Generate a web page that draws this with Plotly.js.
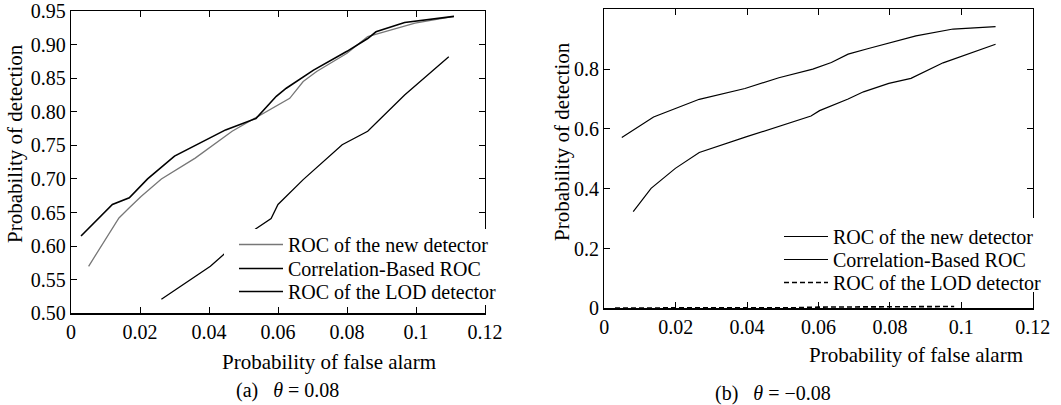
<!DOCTYPE html>
<html>
<head>
<meta charset="utf-8">
<script src="https://cdn.plot.ly/plotly-3.0.1.min.js"></script>
<style>
html,body{margin:0;padding:0;background:#fff;}
#chart{width:1061px;height:405px;}
</style>
</head>
<body>
<div id="chart"></div>
<script>
// Panel (a): theta = 0.08
var newA_x  = [0.0051,0.0139,0.0169,0.0203,0.0262,0.036,0.0467,0.0585,0.0634,0.0673,0.0712,0.080,0.086,0.0908,0.0997,0.111];
var newA_y  = [0.570,0.642,0.657,0.674,0.700,0.731,0.771,0.805,0.820,0.845,0.860,0.887,0.912,0.919,0.932,0.942];
var corrA_x = [0.0029,0.012,0.0169,0.0222,0.030,0.039,0.0448,0.0536,0.0595,0.0624,0.0703,0.080,0.086,0.0884,0.0967,0.111];
var corrA_y = [0.615,0.662,0.672,0.700,0.734,0.758,0.773,0.790,0.823,0.835,0.862,0.890,0.909,0.919,0.933,0.942];
var lodA_x  = [0.0262,0.0404,0.0448,0.0536,0.058,0.060,0.0673,0.0786,0.086,0.0967,0.1095];
var lodA_y  = [0.521,0.570,0.590,0.626,0.641,0.662,0.699,0.751,0.771,0.825,0.882];

// Panel (b): theta = -0.08
var newB_x  = [0.0049,0.0138,0.0266,0.0394,0.0489,0.0584,0.0636,0.0683,0.074,0.0873,0.0977,0.1096];
var newB_y  = [0.571,0.640,0.699,0.735,0.771,0.800,0.822,0.850,0.869,0.911,0.934,0.942];
var corrB_x = [0.0081,0.0131,0.0199,0.0266,0.0399,0.0522,0.0579,0.0603,0.0683,0.0726,0.0797,0.0859,0.0949,0.1096];
var corrB_y = [0.323,0.401,0.468,0.521,0.574,0.622,0.643,0.661,0.700,0.724,0.752,0.769,0.821,0.883];
var lodB_x  = [0.003,0.02,0.04,0.054,0.06,0.07,0.08,0.09,0.098];
var lodB_y  = [0.001,0.001,0.001,0.002,0.004,0.004,0.005,0.006,0.006];

var seriesNames = ['ROC of the new detector','Correlation-Based ROC','ROC of the LOD detector'];
var xTicksVals = [0,0.02,0.04,0.06,0.08,0.1,0.12];
var yTicksA = [0.50,0.55,0.60,0.65,0.70,0.75,0.80,0.85,0.90,0.95];
var yTicksB = [0,0.2,0.4,0.6,0.8,1];

var FONT = 'Liberation Serif, Times New Roman, Times, serif';
var W = 1061, H = 405;
function px(x){return x/W;}
function py(y){return (H-y)/H;}

var traces = [
  {x:newA_x, y:newA_y, name:seriesNames[0], mode:'lines', line:{color:'#777777', width:1.3}, xaxis:'x', yaxis:'y', legend:'legend'},
  {x:corrA_x, y:corrA_y, name:seriesNames[1], mode:'lines', line:{color:'#000000', width:1.6}, xaxis:'x', yaxis:'y', legend:'legend2'},
  {x:lodA_x, y:lodA_y, name:seriesNames[2], mode:'lines', line:{color:'#000000', width:1.3}, xaxis:'x', yaxis:'y', legend:'legend3'},
  {x:newB_x, y:newB_y, name:seriesNames[0], mode:'lines', line:{color:'#000000', width:1.2}, xaxis:'x2', yaxis:'y2', legend:'legend4'},
  {x:corrB_x, y:corrB_y, name:seriesNames[1], mode:'lines', line:{color:'#000000', width:1.2}, xaxis:'x2', yaxis:'y2', legend:'legend5'},
  {x:lodB_x, y:lodB_y, name:seriesNames[2], mode:'lines', line:{color:'#000000', width:1.6, dash:'5px,3px'}, xaxis:'x2', yaxis:'y2', legend:'legend6'}
];

function axisBase(){
  return {
    showline:true, linecolor:'#000', linewidth:1.3, mirror:'ticks',
    ticks:'inside', ticklen:6, tickwidth:1, tickcolor:'#000',
    showgrid:false, zeroline:false, fixedrange:true,
    tickfont:{family:FONT, size:20, color:'#000'}
  };
}

var xa = Object.assign(axisBase(), {domain:[px(71), px(485)], range:[0,0.12], tickmode:'array', tickvals:xTicksVals, anchor:'y'});
var ya = Object.assign(axisBase(), {domain:[py(313.3), py(11)], range:[0.5,0.95], tickmode:'array', tickvals:yTicksA, tickformat:'.2f', anchor:'x'});
var xb = Object.assign(axisBase(), {domain:[px(604.3), px(1032.7)], range:[0,0.12], tickmode:'array', tickvals:xTicksVals, anchor:'y2'});
var yb = Object.assign(axisBase(), {domain:[py(308.3), py(9.3)], range:[0,1], tickmode:'array', tickvals:yTicksB, anchor:'x2'});

function leg(xpx, ytop){
  return {
    bgcolor:'rgba(0,0,0,0)', borderwidth:0, xanchor:'left', yanchor:'top',
    font:{family:FONT, size:20, color:'#000'}, itemwidth:44,
    x:px(xpx), y:py(ytop)
  };
}

var layout = {
  width:W, height:H,
  margin:{l:0, r:0, t:0, b:0},
  paper_bgcolor:'#fff', plot_bgcolor:'#fff',
  showlegend:true,
  xaxis:xa, yaxis:ya, xaxis2:xb, yaxis2:yb,
  legend:leg(234, 225),
  legend2:leg(234, 249),
  legend3:leg(234, 272),
  legend4:leg(779, 217),
  legend5:leg(779, 240),
  legend6:leg(779, 263),
  shapes:[
    {type:'rect', xref:'paper', yref:'paper', x0:px(224), x1:px(500), y0:py(305), y1:py(229), fillcolor:'#fff', line:{width:0}, layer:'above'},
    {type:'rect', xref:'paper', yref:'paper', x0:px(776), x1:px(1046), y0:py(292), y1:py(218), fillcolor:'#fff', line:{width:0}, layer:'above'}
  ],
  annotations:[
    {text:'Probability of false alarm', xref:'paper', yref:'paper', x:px(329), y:py(362), xanchor:'center', yanchor:'middle', showarrow:false, font:{family:FONT, size:21, color:'#000'}},
    {text:'Probability of false alarm', xref:'paper', yref:'paper', x:px(916), y:py(355), xanchor:'center', yanchor:'middle', showarrow:false, font:{family:FONT, size:21, color:'#000'}},
    {text:'Probability of detection', xref:'paper', yref:'paper', x:px(15), y:py(144), xanchor:'center', yanchor:'middle', textangle:-90, showarrow:false, font:{family:FONT, size:21, color:'#000'}},
    {text:'Probability of detection', xref:'paper', yref:'paper', x:px(562), y:py(142), xanchor:'center', yanchor:'middle', textangle:-90, showarrow:false, font:{family:FONT, size:21, color:'#000'}},
    {text:'(a)\u00a0\u00a0\u00a0<i>\u03b8</i>\u00a0=\u00a00.08', xref:'paper', yref:'paper', x:px(287), y:py(390), xanchor:'center', yanchor:'middle', showarrow:false, font:{family:FONT, size:20, color:'#000'}},
    {text:'(b)\u00a0\u00a0\u00a0<i>\u03b8</i>\u00a0=\u00a0\u22120.08', xref:'paper', yref:'paper', x:px(773), y:py(393), xanchor:'center', yanchor:'middle', showarrow:false, font:{family:FONT, size:20, color:'#000'}}
  ]
};

Plotly.newPlot('chart', traces, layout, {displayModeBar:false, staticPlot:true});
</script>
</body>
</html>
